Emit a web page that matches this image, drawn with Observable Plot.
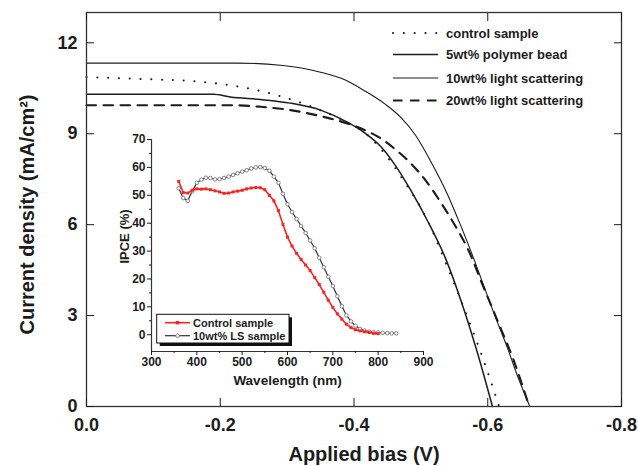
<!DOCTYPE html>
<html><head><meta charset="utf-8">
<script src="https://cdn.jsdelivr.net/npm/d3@7"></script>
<script src="https://cdn.jsdelivr.net/npm/@observablehq/plot@0.6"></script>
<style>
body{margin:0;background:#fff;}
#wrap{position:relative;width:638px;height:466px;overflow:hidden;font-family:"Liberation Sans",Arial,sans-serif;}
#wrap svg{position:absolute;}
</style></head><body><div id="wrap"></div>
<script>
// ---- main J-V chart data ----
const xTicks = [0, -0.2, -0.4, -0.6, -0.8];
const yTicks = [0, 3, 6, 9, 12];
const xDomain = [0, -0.8];
const yDomain = [0, 13];
const xTitle = "Applied bias (V)";
const yTitle = "Current density (mA/cm²)";
const seriesNames = ["control sample", "5wt% polymer bead", "10wt% light scattering", "20wt% light scattering"];

const controlV = [0, -0.091, -0.156, -0.215, -0.280, -0.339, -0.384, -0.417, -0.440, -0.474, -0.510, -0.540, -0.570, -0.594, -0.617];
const controlJ = [10.87, 10.80, 10.74, 10.60, 10.30, 9.87, 9.44, 9.02, 8.50, 7.46, 6.14, 4.58, 2.93, 1.51, 0];

const bead5V = [0, -0.190, -0.215, -0.260, -0.305, -0.350, -0.390, -0.417, -0.440, -0.462, -0.485, -0.511, -0.537, -0.562, -0.585, -0.607];
const bead5J = [10.30, 10.30, 10.21, 10.13, 10.01, 9.78, 9.38, 9.01, 8.58, 7.95, 7.13, 6.08, 4.88, 3.36, 1.74, 0];

const ls10V = [0, -0.226, -0.290, -0.350, -0.387, -0.417, -0.447, -0.470, -0.492, -0.514, -0.540, -0.559, -0.579, -0.609, -0.630, -0.645, -0.663];
const ls10J = [11.33, 11.33, 11.26, 11.03, 10.77, 10.40, 9.97, 9.54, 8.95, 8.12, 6.99, 6.00, 4.88, 3.09, 1.90, 0.98, 0];

const ls20V = [0, -0.220, -0.260, -0.305, -0.350, -0.390, -0.417, -0.440, -0.462, -0.485, -0.507, -0.529, -0.552, -0.570, -0.594, -0.619, -0.639, -0.662];
const ls20J = [9.94, 9.94, 9.89, 9.78, 9.58, 9.34, 9.11, 8.85, 8.48, 8.02, 7.46, 6.76, 5.94, 5.21, 3.92, 2.60, 1.51, 0];

// ---- inset IPCE data ----
const ipceXTicks = [300, 400, 500, 600, 700, 800, 900];
const ipceXMinor = [350, 450, 550, 650, 750, 850];
const ipceYTicks = [0, 10, 20, 30, 40, 50, 60, 70];
const ipceYMinor = [5, 15, 25, 35, 45, 55, 65];
const ipceXDomain = [300, 900];
const ipceYDomain = [-6, 70];
const insetNames = ["Control sample", "10wt% LS sample"];

const controlWl = [360,370,380,390,400,410,420,430,440,450,460,470,480,490,500,510,520,530,540,550,560,570,580,590,600,610,620,630,640,650,660,670,680,690,700,710,720,730,740,750,760,770,780,790,800];
const controlIpce = [55.0,51.0,50.8,51.8,52.3,52.2,52.3,52.0,51.6,51.2,50.7,50.8,51.2,51.5,51.8,52.3,52.6,52.8,52.7,52.0,50.0,48.0,44.5,39.5,35.0,31.8,29.2,27.0,25.0,23.0,20.5,18.0,15.2,12.4,9.8,7.5,5.6,3.8,2.6,1.8,1.4,1.1,0.8,0.5,0.4];

const lsWl = [360,370,380,390,400,410,420,430,440,450,460,470,480,490,500,510,520,530,540,550,560,570,580,590,600,610,620,630,640,650,660,670,680,690,700,710,720,730,740,750,760,770,780,790,800,810,820,830,840];
const lsIpce = [52.5,49.0,48.0,51.5,54.5,55.6,56.3,56.2,55.7,55.8,56.2,56.7,57.3,57.9,58.5,59.0,59.6,60.0,60.1,59.8,58.8,56.7,54.5,50.5,46.8,44.0,41.5,39.0,36.5,33.8,31.0,27.6,24.2,20.8,17.5,13.8,10.2,7.0,4.8,3.2,2.1,1.5,1.1,0.9,0.8,0.7,0.6,0.5,0.5];

// styles
const ink = "#1c1c1c";
const red = "#ff2222";
const lineStyles = {
  "control sample": {strokeWidth: 2, strokeDasharray: "0.1 10.7", strokeLinecap: "round"},
  "5wt% polymer bead": {strokeWidth: 1.5},
  "10wt% light scattering": {strokeWidth: 1.1},
  "20wt% light scattering": {strokeWidth: 2.1, strokeDasharray: "9.5 7.5"}
};
const toRows = (V, J) => V.map((v, i) => ({V: v, J: J[i]}));
const mainSeries = [toRows(controlV, controlJ), toRows(bead5V, bead5J), toRows(ls10V, ls10J), toRows(ls20V, ls20J)];

const wrap = document.getElementById("wrap");
const fmt1 = d => d.toFixed(1);

const main = Plot.plot({
  width: 638, height: 466,
  marginLeft: 86, marginRight: 17, marginTop: 12, marginBottom: 60,
  style: {fontFamily: "Liberation Sans, Arial, sans-serif", color: ink, background: "white"},
  x: {domain: xDomain},
  y: {domain: yDomain},
  marks: [
    ...mainSeries.map((rows, i) => Plot.line(rows, {x: "V", y: "J", stroke: ink, curve: "monotone-x", ...lineStyles[seriesNames[i]]})),
    Plot.frame({stroke: "#333", strokeWidth: 1.3}),
    Plot.axisX({anchor: "bottom", ticks: xTicks, tickFormat: fmt1, tickSize: -8, tickPadding: 20, fontSize: 18, fontWeight: "bold", label: null}),
    Plot.axisX({anchor: "top", ticks: xTicks, tickFormat: () => "", tickSize: -8, label: null}),
    Plot.axisY({anchor: "left", ticks: yTicks, tickSize: -8, tickPadding: 17, fontSize: 18, fontWeight: "bold", label: null}),
    Plot.axisY({anchor: "right", ticks: yTicks, tickFormat: () => "", tickSize: -8, label: null}),
    Plot.text([xTitle], {frameAnchor: "bottom", dx: 10, dy: 48, fontSize: 20, fontWeight: "bold", lineAnchor: "middle", textAnchor: "middle"}),
    Plot.text([yTitle], {frameAnchor: "left", dx: -59, dy: 5, rotate: -90, fontSize: 20, fontWeight: "bold", lineAnchor: "middle", textAnchor: "middle"})
  ]
});
main.style.left = "0px"; main.style.top = "0px";
wrap.appendChild(main);

const redRows = controlWl.map((w, i) => ({w, v: controlIpce[i]}));
const lsRows = lsWl.map((w, i) => ({w, v: lsIpce[i]}));

const inset = Plot.plot({
  width: 340, height: 275,
  marginLeft: 51, marginRight: 17, marginTop: 14, marginBottom: 49,
  style: {fontFamily: "Liberation Sans, Arial, sans-serif", color: ink, background: "transparent"},
  x: {domain: ipceXDomain},
  y: {domain: ipceYDomain},
  marks: [
    Plot.ruleY([ipceYDomain[0]], {x1: ipceXDomain[0], x2: ipceXDomain[1], stroke: "#333", strokeWidth: 1.2}),
    Plot.ruleX([ipceXDomain[0]], {y1: ipceYDomain[0], y2: ipceYTicks[ipceYTicks.length - 1], stroke: "#333", strokeWidth: 1.2}),
    Plot.axisX({ticks: ipceXTicks, tickSize: 4, tickPadding: 2, fontSize: 12, fontWeight: "bold", label: null}),
    Plot.axisX({ticks: ipceXMinor, tickSize: 2, tickFormat: () => "", label: null}),
    Plot.axisY({ticks: ipceYTicks, tickSize: 4, tickPadding: 2, fontSize: 12, fontWeight: "bold", label: null}),
    Plot.axisY({ticks: ipceYMinor, tickSize: 2, tickFormat: () => "", label: null}),
    Plot.line(lsRows, {x: "w", y: "v", stroke: "#333", strokeWidth: 1.2}),
    Plot.dot(lsRows, {x: "w", y: "v", r: 1.8, stroke: "#777", strokeWidth: 0.9, fill: "white"}),
    Plot.line(redRows, {x: "w", y: "v", stroke: red, strokeWidth: 1.6}),
    Plot.dot(redRows, {x: "w", y: "v", symbol: "square", r: 1.7, fill: red}),
    Plot.text(["Wavelength (nm)"], {frameAnchor: "bottom", dy: 29, fontSize: 13.5, fontWeight: "bold", lineAnchor: "middle", textAnchor: "middle"}),
    Plot.text(["IPCE (%)"], {frameAnchor: "left", dx: -27, dy: -9, rotate: -90, fontSize: 13, fontWeight: "bold", lineAnchor: "middle", textAnchor: "middle"})
  ]
});
inset.style.left = "100px"; inset.style.top = "125px";
wrap.appendChild(inset);

// legends overlay
const leg = d3.select(wrap).append("svg").attr("width", 638).attr("height", 466)
  .style("left", "0px").style("top", "0px")
  .style("font-family", "Liberation Sans, Arial, sans-serif");
const legY = [33, 54.5, 78, 100.5];
seriesNames.forEach((name, i) => {
  const st = lineStyles[name];
  leg.append("line").attr("x1", 393).attr("x2", 438).attr("y1", legY[i]).attr("y2", legY[i])
    .attr("stroke", ink).attr("stroke-width", st.strokeWidth)
    .attr("stroke-dasharray", st.strokeDasharray || null)
    .attr("stroke-linecap", st.strokeLinecap || null);
  leg.append("text").attr("x", 446).attr("y", legY[i]).attr("dy", "0.35em")
    .attr("font-size", 13).attr("font-weight", "bold").attr("fill", ink).text(name);
});
// inset legend
leg.append("rect").attr("x", 159.7).attr("y", 317.3).attr("width", 132.3).attr("height", 28.7).attr("fill", "#111");
leg.append("rect").attr("x", 156.7).attr("y", 314.3).attr("width", 132.3).attr("height", 28.7).attr("fill", "white").attr("stroke", "#111").attr("stroke-width", 1);
const iy = [322.7, 335.7];
leg.append("line").attr("x1", 165).attr("x2", 190).attr("y1", iy[0]).attr("y2", iy[0]).attr("stroke", red).attr("stroke-width", 1.6);
leg.append("rect").attr("x", 175.8).attr("y", iy[0] - 1.7).attr("width", 3.4).attr("height", 3.4).attr("fill", red);
leg.append("line").attr("x1", 165).attr("x2", 190).attr("y1", iy[1]).attr("y2", iy[1]).attr("stroke", "#333").attr("stroke-width", 1.2);
leg.append("circle").attr("cx", 177.5).attr("cy", iy[1]).attr("r", 1.8).attr("fill", "white").attr("stroke", "#777").attr("stroke-width", 0.9);
insetNames.forEach((n, i) => {
  leg.append("text").attr("x", 193).attr("y", iy[i]).attr("dy", "0.35em")
    .attr("font-size", 11).attr("font-weight", "bold").attr("fill", ink).text(n);
});
</script></body></html>
